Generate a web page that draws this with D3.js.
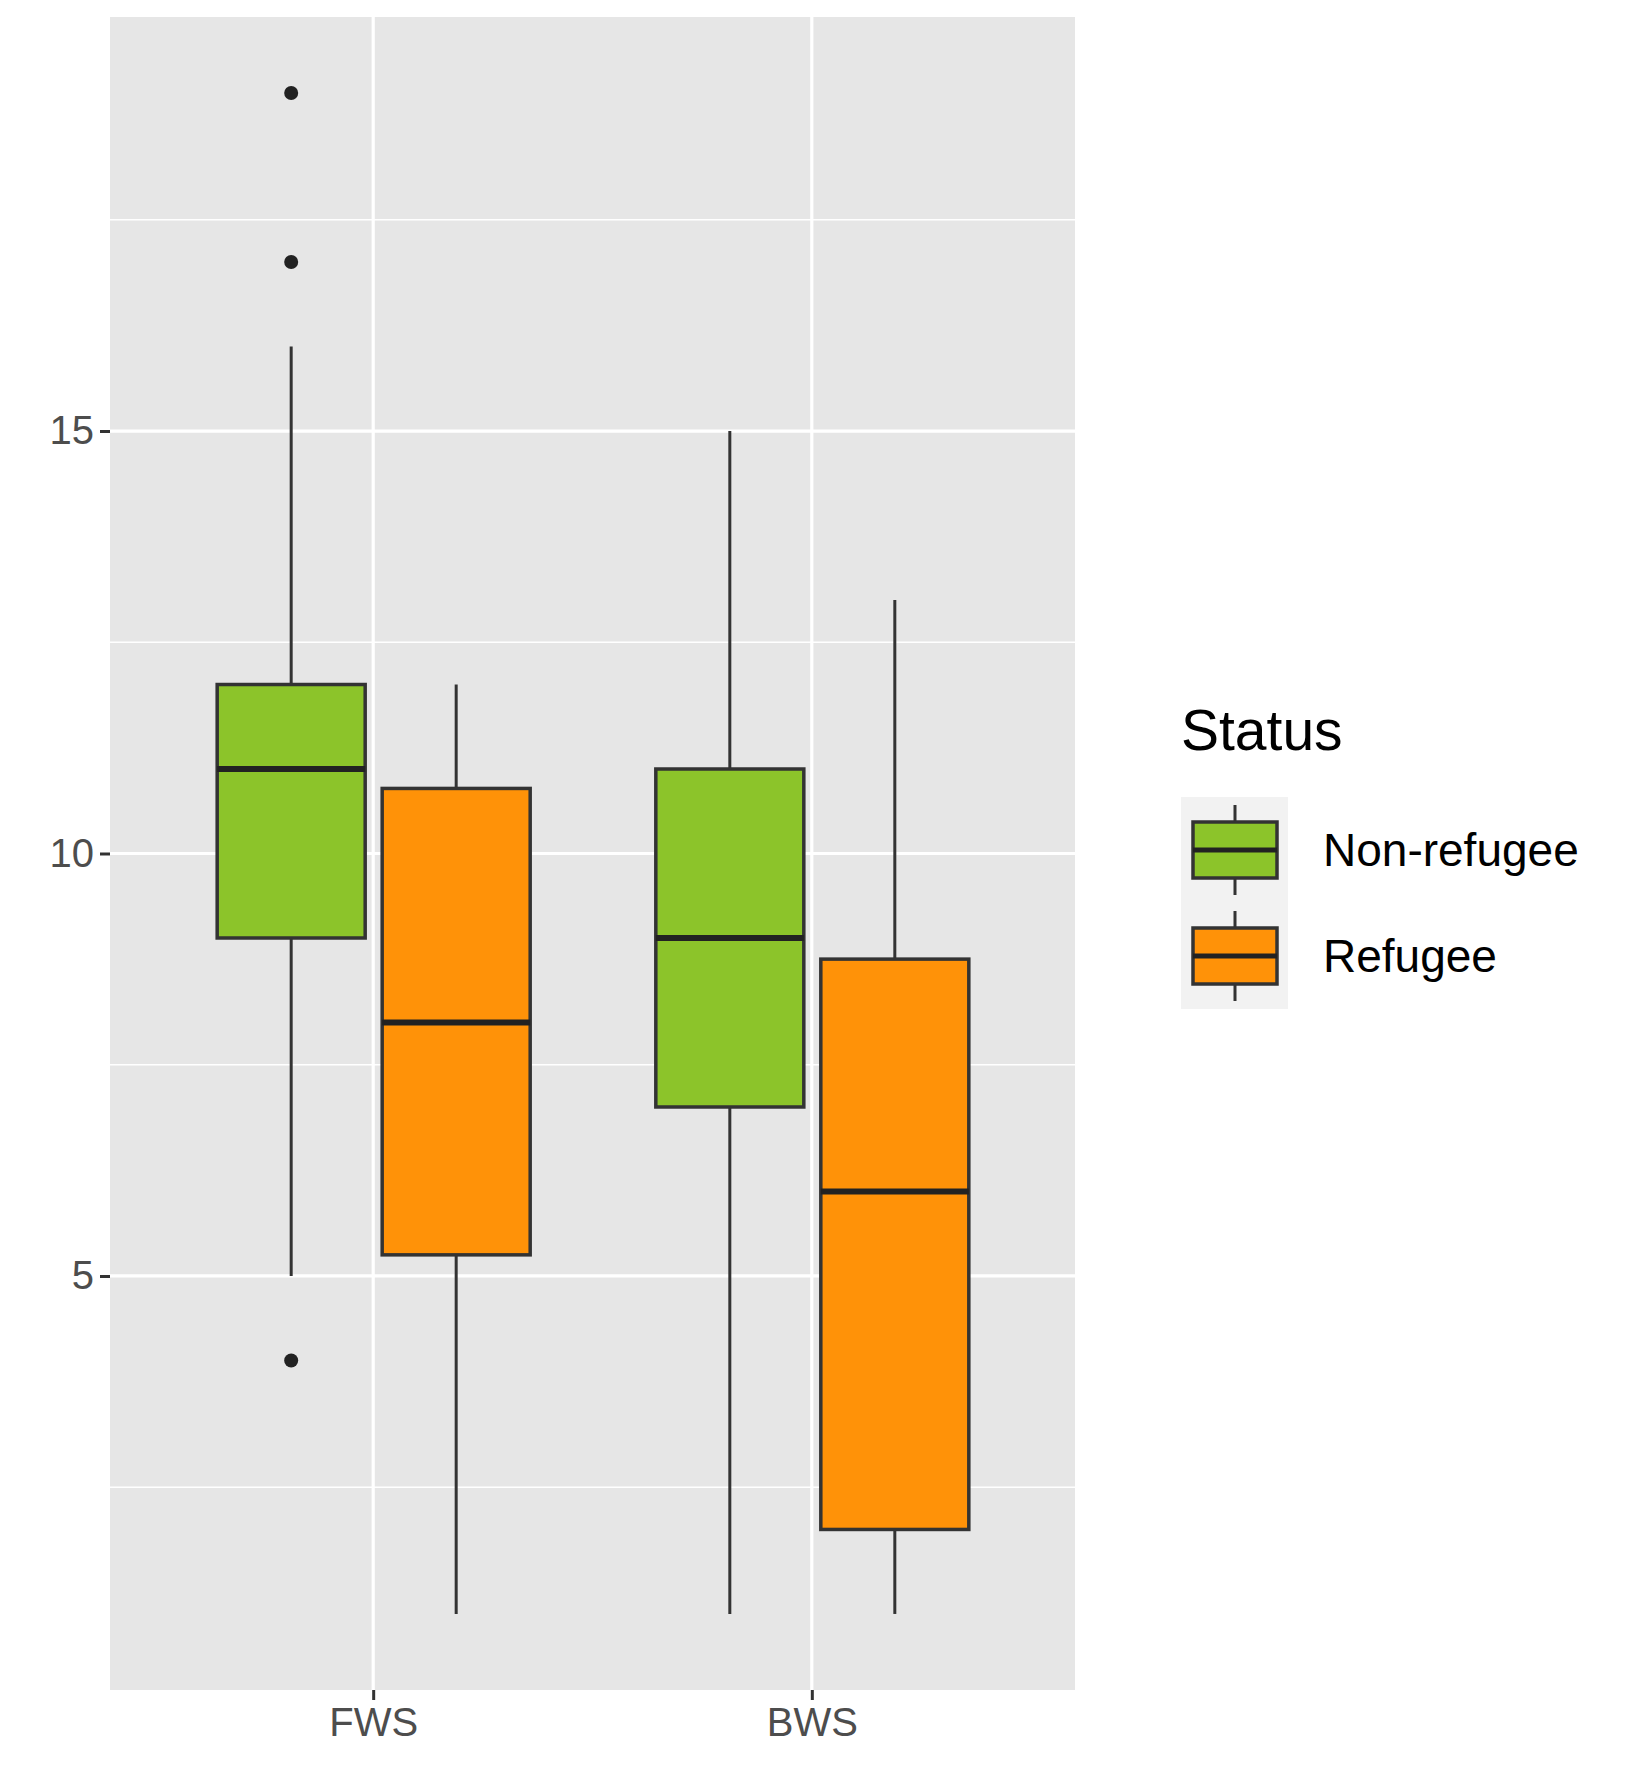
<!DOCTYPE html><html><head><meta charset="utf-8"><script src="https://cdn.jsdelivr.net/npm/d3@7"></script>
<style>body{margin:0;background:#fff}</style></head><body><svg id="c" width="1650" height="1787"></svg><script>
const categories=["FWS","BWS"];
const groups=["Non-refugee","Refugee"];
const colors=["#8cc42a","#ff9208"];
// [low whisker, Q1, median, Q3, high whisker]
const nonRefugee=[[5,9,11,12,16],[1,7,9,11,15]];
const refugee=[[1,5.25,8,10.77,12],[1,2,6,8.75,13]];
const outliersNon=[[19,17,4],[]];
const outliersRef=[[],[]];
const yTicks=[5,10,15];
const yMinor=[2.5,7.5,12.5,17.5];

const svg=d3.select("#c");
const L=110,R=1075,T=17,B=1690;
const y=d3.scaleLinear().domain([0.1,19.9]).range([B,T]);
const x=d3.scalePoint().domain(categories).range([L,R]).padding(0.6*2/2.2*1.1);
const xs=d3.scaleLinear().domain([0.4,2.6]).range([L,R]);
const cx=c=>xs(categories.indexOf(c)+1);
svg.append("rect").attr("x",L).attr("y",T).attr("width",R-L).attr("height",B-T).attr("fill","#e6e6e6");
yMinor.forEach(v=>svg.append("line").attr("x1",L).attr("x2",R).attr("y1",y(v)).attr("y2",y(v)).attr("stroke","#fff").attr("stroke-width",1.6));
yTicks.forEach(v=>svg.append("line").attr("x1",L).attr("x2",R).attr("y1",y(v)).attr("y2",y(v)).attr("stroke","#fff").attr("stroke-width",3.2));
categories.forEach(c=>svg.append("line").attr("x1",cx(c)).attr("x2",cx(c)).attr("y1",T).attr("y2",B).attr("stroke","#fff").attr("stroke-width",3.2));
// axes
const ya=svg.append("g").attr("transform",`translate(${L},0)`).call(d3.axisLeft(y).tickValues(yTicks).tickSize(10).tickPadding(6));
ya.select(".domain").remove();
ya.selectAll("line").attr("stroke","#333").attr("stroke-width",3);
ya.selectAll("text").attr("fill","#4d4d4d").attr("font-size",40).attr("font-family","Liberation Sans, Arial");
const xa=svg.append("g").attr("transform",`translate(0,${B})`).call(d3.axisBottom(xs).tickValues([1,2]).tickFormat(d=>categories[d-1]).tickSize(10).tickPadding(8));
xa.select(".domain").remove();
xa.selectAll("line").attr("stroke","#333").attr("stroke-width",3);
xa.selectAll("text").attr("fill","#4d4d4d").attr("font-size",40).attr("font-family","Liberation Sans, Arial");
const off=[-82,83], bw=148;
function drawBox(g,xc,d,col,outs){
  g.append("line").attr("x1",xc).attr("x2",xc).attr("y1",y(d[0])).attr("y2",y(d[1])).attr("stroke","#333").attr("stroke-width",3);
  g.append("line").attr("x1",xc).attr("x2",xc).attr("y1",y(d[3])).attr("y2",y(d[4])).attr("stroke","#333").attr("stroke-width",3);
  g.append("rect").attr("x",xc-bw/2).attr("width",bw).attr("y",y(d[3])).attr("height",y(d[1])-y(d[3])).attr("fill",col).attr("stroke","#333").attr("stroke-width",3.5);
  g.append("line").attr("x1",xc-bw/2).attr("x2",xc+bw/2).attr("y1",y(d[2])).attr("y2",y(d[2])).attr("stroke","#222").attr("stroke-width",6);
  outs.forEach(o=>g.append("circle").attr("cx",xc).attr("cy",y(o)).attr("r",7).attr("fill","#222"));
}
const g=svg.append("g");
categories.forEach((c,i)=>{
  drawBox(g,cx(c)+off[0],nonRefugee[i],colors[0],outliersNon[i]);
  drawBox(g,cx(c)+off[1],refugee[i],colors[1],outliersRef[i]);
});
// legend
const lg=svg.append("g");
lg.append("text").attr("x",1181).attr("y",750).attr("font-size",57).attr("font-family","Liberation Sans, Arial").attr("fill","#000").text("Status");
lg.append("rect").attr("x",1181).attr("y",797).attr("width",107).attr("height",212).attr("fill","#f2f2f2");
groups.forEach((gname,i)=>{
  const ky=797+i*106, kc=1235;
  lg.append("line").attr("x1",kc).attr("x2",kc).attr("y1",ky+8).attr("y2",ky+98).attr("stroke","#333").attr("stroke-width",3);
  lg.append("rect").attr("x",1193).attr("y",ky+25).attr("width",84).attr("height",56).attr("fill",colors[i]).attr("stroke","#333").attr("stroke-width",3.5);
  lg.append("line").attr("x1",1193).attr("x2",1277).attr("y1",ky+53).attr("y2",ky+53).attr("stroke","#222").attr("stroke-width",5);
  lg.append("text").attr("x",1323).attr("y",ky+69).attr("font-size",46).attr("font-family","Liberation Sans, Arial").attr("fill","#000").text(gname);
});
</script></body></html>
